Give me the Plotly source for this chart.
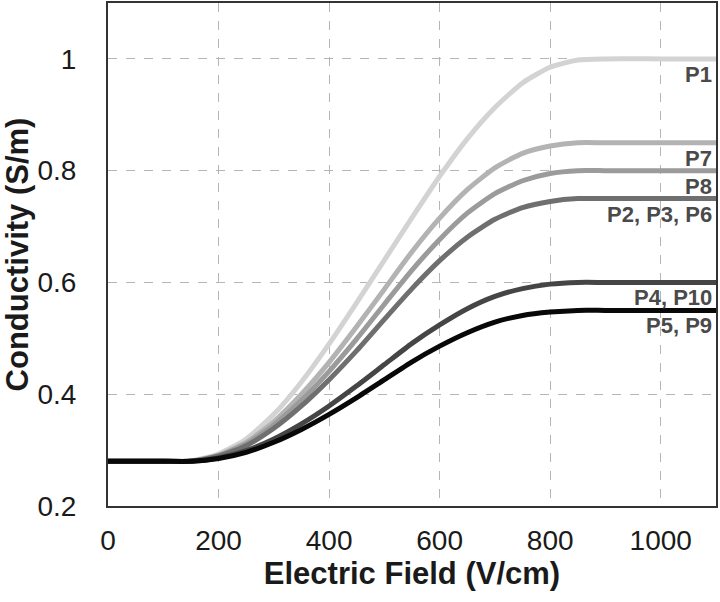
import plotly.graph_objects as go

electric_field = [0, 100, 150, 200, 250, 300, 350, 400, 450, 500, 550, 600, 650, 700, 750, 800, 850, 900, 1000, 1100]

P1 = [0.28, 0.28, 0.281, 0.293, 0.320, 0.364, 0.422, 0.490, 0.564, 0.640, 0.716, 0.790, 0.857, 0.913, 0.957, 0.985, 0.998, 1.0, 1.0, 1.0]
P7 = [0.28, 0.28, 0.280, 0.291, 0.314, 0.351, 0.400, 0.457, 0.521, 0.588, 0.655, 0.715, 0.766, 0.805, 0.831, 0.844, 0.85, 0.85, 0.85, 0.85]
P8 = [0.28, 0.28, 0.280, 0.290, 0.311, 0.345, 0.389, 0.441, 0.499, 0.561, 0.622, 0.677, 0.724, 0.759, 0.782, 0.795, 0.80, 0.80, 0.80, 0.80]
P2_P3_P6 = [0.28, 0.28, 0.280, 0.289, 0.308, 0.339, 0.379, 0.426, 0.478, 0.534, 0.589, 0.639, 0.681, 0.713, 0.734, 0.745, 0.75, 0.75, 0.75, 0.75]
P4_P10 = [0.28, 0.28, 0.280, 0.286, 0.299, 0.320, 0.347, 0.379, 0.415, 0.453, 0.491, 0.524, 0.553, 0.575, 0.589, 0.597, 0.60, 0.60, 0.60, 0.60]
P5_P9 = [0.28, 0.28, 0.280, 0.285, 0.296, 0.314, 0.337, 0.364, 0.394, 0.426, 0.458, 0.486, 0.510, 0.529, 0.541, 0.547, 0.55, 0.55, 0.55, 0.55]

series_names = ["P1", "P7", "P8", "P2, P3, P6", "P4, P10", "P5, P9"]
series_values = [P1, P7, P8, P2_P3_P6, P4_P10, P5_P9]
series_colors = ["#d3d3d3", "#b3b3b3", "#9b9b9b", "#6f6f6f", "#454545", "#080808"]

x_ticks = [0, 200, 400, 600, 800, 1000]
y_ticks = [0.2, 0.4, 0.6, 0.8, 1.0]
y_tick_labels = ["0.2", "0.4", "0.6", "0.8", "1"]

font_family = "Liberation Sans, Arial"

fig = go.Figure()
for name, vals, col in zip(series_names, series_values, series_colors):
    fig.add_trace(go.Scatter(
        x=electric_field, y=vals, mode="lines", name=name,
        line=dict(color=col, width=5, shape="spline", smoothing=0.6),
        showlegend=False, hoverinfo="skip",
    ))
    fig.add_annotation(
        x=1100, y=vals[-1], xref="x", yref="y", text="<b>" + name + "</b>",
        showarrow=False, xanchor="right", yanchor="top", yshift=-1, xshift=-2,
        font=dict(family=font_family, size=22, color="#4a4a4a"),
    )

fig.update_layout(
    width=720, height=602,
    margin=dict(l=108, r=4, t=1, b=96),
    paper_bgcolor="white", plot_bgcolor="white",
    font=dict(family=font_family, color="#1a1a1a"),
)
fig.update_xaxes(
    range=[0, 1100], tickvals=x_ticks, ticktext=[str(v) for v in x_ticks],
    tickfont=dict(size=28, color="#1a1a1a"),
    showgrid=True, gridcolor="#b5b5b5", griddash="dash", gridwidth=1,
    showline=True, linecolor="#333333", linewidth=2, mirror=True,
    ticks="", ticklabelstandoff=8, zeroline=False,
    title=dict(text="<b>Electric Field (V/cm)</b>", font=dict(size=31, color="#1a1a1a"), standoff=8),
)
fig.update_yaxes(
    range=[0.2, 1.1], tickvals=y_ticks, ticktext=y_tick_labels,
    tickfont=dict(size=28, color="#1a1a1a"),
    showgrid=True, gridcolor="#b5b5b5", griddash="dash", gridwidth=1,
    showline=True, linecolor="#333333", linewidth=2, mirror=True,
    ticks="", ticklabelstandoff=24, zeroline=False,
    title=dict(text="<b>Conductivity (S/m)</b>", font=dict(size=31, color="#1a1a1a"), standoff=2),
)

fig.write_html(
    "out.html",
    config={"displayModeBar": False},
    post_script="document.body.style.margin='0';document.body.style.overflow='hidden';",
)
